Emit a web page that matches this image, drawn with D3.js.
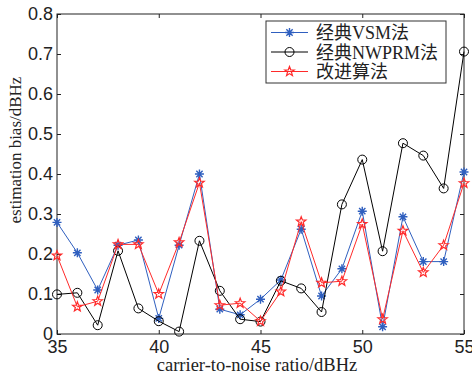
<!DOCTYPE html>
<html>
<head>
<meta charset="utf-8">
<script src="https://cdn.jsdelivr.net/npm/d3@7"></script>
<style>
  body { margin: 0; background: #fff; }
  svg { font-family: "Liberation Serif", "Noto Sans CJK SC", serif; }
</style>
</head>
<body>
<div id="chart"></div>
<script>
// carrier-to-noise ratio, dBHz
const cn0 = [35, 36, 37, 38, 39, 40, 41, 42, 43, 44, 45, 46, 47, 48, 49, 50, 51, 52, 53, 54, 55];
const vsm = [0.279, 0.203, 0.110, 0.222, 0.235, 0.039, 0.222, 0.400, 0.062, 0.048, 0.087, 0.135, 0.262, 0.095, 0.163, 0.307, 0.018, 0.293, 0.181, 0.181, 0.405];
const nwprm = [0.099, 0.103, 0.022, 0.208, 0.064, 0.032, 0.006, 0.233, 0.108, 0.037, 0.031, 0.133, 0.114, 0.055, 0.324, 0.436, 0.207, 0.477, 0.446, 0.364, 0.706];
const improved = [0.196, 0.068, 0.082, 0.224, 0.224, 0.100, 0.229, 0.378, 0.072, 0.077, 0.032, 0.106, 0.281, 0.128, 0.132, 0.275, 0.037, 0.258, 0.154, 0.222, 0.377];
const xTicks = [35, 40, 45, 50, 55];
const yTicks = [0, 0.1, 0.2, 0.3, 0.4, 0.5, 0.6, 0.7, 0.8];
const seriesNames = ["经典VSM法", "经典NWPRM法", "改进算法"];

const W = 472, H = 377;
const margin = { top: 14, right: 8, bottom: 43, left: 57 };
const width = W - margin.left - margin.right;
const height = H - margin.top - margin.bottom;

const svg = d3.select("#chart").append("svg")
  .attr("width", W)
  .attr("height", H);

const g = svg.append("g")
  .attr("transform", `translate(${margin.left},${margin.top})`);

const x = d3.scaleLinear().domain([35, 55]).range([0, width]);
const y = d3.scaleLinear().domain([0, 0.8]).range([height, 0]);

// axes, MATLAB style: ticks inward on all four sides
const fmtY = d => d === 0 ? "0" : d3.format(".1f")(d);
const axStyle = sel => {
  sel.select(".domain").remove();
  sel.selectAll("line").attr("stroke", "#222");
  sel.selectAll("text").attr("fill", "#222").style("font-size", "18px");
};

g.append("g")
  .attr("transform", `translate(0,${height})`)
  .call(d3.axisBottom(x).tickValues(xTicks).tickSize(-4).tickPadding(6))
  .call(axStyle);
g.append("g")
  .call(d3.axisTop(x).tickValues(xTicks).tickSize(-4).tickFormat(""))
  .call(axStyle);
g.append("g")
  .call(d3.axisLeft(y).tickValues(yTicks).tickSize(-4).tickPadding(4).tickFormat(fmtY))
  .call(axStyle);
g.append("g")
  .attr("transform", `translate(${width},0)`)
  .call(d3.axisRight(y).tickValues(yTicks).tickSize(-4).tickFormat(""))
  .call(axStyle);

g.append("rect")
  .attr("width", width)
  .attr("height", height)
  .attr("fill", "none")
  .attr("stroke", "#222")
  .attr("stroke-width", 1);

// axis labels
svg.append("text")
  .attr("x", 257)
  .attr("y", 371)
  .attr("text-anchor", "middle")
  .style("font-size", "18.5px")
  .attr("fill", "#222")
  .text("carrier-to-noise ratio/dBHz");

svg.append("text")
  .attr("transform", "translate(21,150) rotate(-90)")
  .attr("text-anchor", "middle")
  .style("font-size", "17px")
  .attr("fill", "#222")
  .text("estimation bias/dBHz");

// marker shapes
const asterisk = r => `M${-r},0L${r},0M0,${-r}L0,${r}M${-r * 0.7},${-r * 0.7}L${r * 0.7},${r * 0.7}M${-r * 0.7},${r * 0.7}L${r * 0.7},${-r * 0.7}`;
const pentagram = r => {
  const pts = [];
  for (let i = 0; i < 10; i++) {
    const rr = i % 2 === 0 ? r : r * 0.42;
    const a = -Math.PI / 2 + i * Math.PI / 5;
    pts.push([rr * Math.cos(a), rr * Math.sin(a)]);
  }
  return "M" + pts.map(p => p.join(",")).join("L") + "Z";
};

const series = [
  { name: seriesNames[0], values: vsm, color: "#2f5fbf", marker: "asterisk" },
  { name: seriesNames[1], values: nwprm, color: "#000000", marker: "circle" },
  { name: seriesNames[2], values: improved, color: "#ff2a2a", marker: "star" }
];

const line = d3.line().x(d => x(d[0])).y(d => y(d[1]));

function drawMarker(sel, s) {
  if (s.marker === "circle") {
    sel.append("circle").attr("r", 4.5)
      .attr("fill", "none").attr("stroke", s.color).attr("stroke-width", 1);
  } else if (s.marker === "asterisk") {
    sel.append("path").attr("d", asterisk(4.5))
      .attr("fill", "none").attr("stroke", s.color).attr("stroke-width", 1.4);
  } else {
    sel.append("path").attr("d", pentagram(5))
      .attr("fill", "none").attr("stroke", s.color).attr("stroke-width", 1.2);
  }
}

series.forEach(s => {
  const pts = cn0.map((c, i) => [c, s.values[i]]);
  g.append("path")
    .datum(pts)
    .attr("d", line)
    .attr("fill", "none")
    .attr("stroke", s.color)
    .attr("stroke-width", 1);
  g.selectAll(null)
    .data(pts)
    .enter().append("g")
    .attr("transform", d => `translate(${x(d[0])},${y(d[1])})`)
    .each(function () { drawMarker(d3.select(this), s); });
});

// legend
const legend = svg.append("g").attr("transform", "translate(266,21)");
legend.append("rect")
  .attr("width", 180)
  .attr("height", 62)
  .attr("fill", "#fff")
  .attr("stroke", "#333")
  .attr("stroke-width", 1);

const items = legend.selectAll(".legend-item")
  .data(series)
  .enter().append("g")
  .attr("class", "legend-item")
  .attr("transform", (d, i) => `translate(0,${11.5 + i * 19.5})`);

items.append("line")
  .attr("x1", 5).attr("x2", 42)
  .attr("stroke", d => d.color).attr("stroke-width", 1);
items.append("g")
  .attr("transform", "translate(23.5,0)")
  .each(function (d) { drawMarker(d3.select(this), d); });
items.append("text")
  .attr("x", 50)
  .attr("y", 6.5)
  .style("font-size", "18px")
  .attr("fill", "#222")
  .text(d => d.name);
</script>
</body>
</html>
